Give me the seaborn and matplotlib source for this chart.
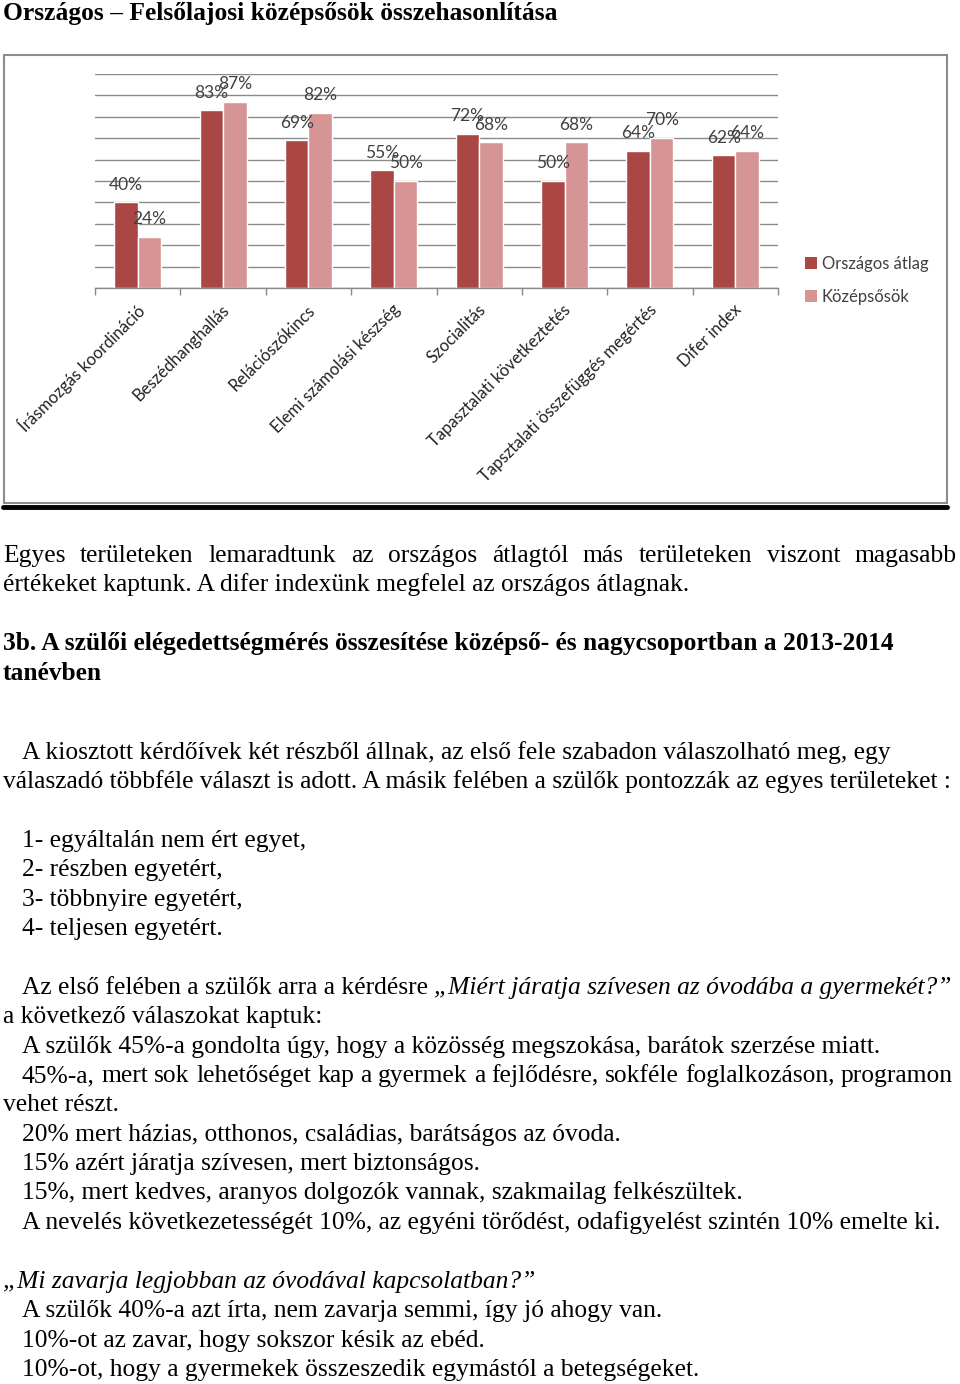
import matplotlib
matplotlib.use('Agg')
import matplotlib.pyplot as plt
import seaborn as sns
import pandas as pd
from matplotlib.patches import Rectangle
from matplotlib.lines import Line2D
from matplotlib.transforms import ScaledTranslation

# ---------------- data ----------------
categories = ["Írásmozgás koordináció", "Beszédhanghallás", "Relációszókincs",
              "Elemi számolási készség", "Szocialitás", "Tapasztalati következtetés",
              "Tapsztalati összefüggés megértés", "Difer index"]
orszagos = [40, 83, 69, 55, 72, 50, 64, 62]
kozepsosok = [24, 87, 82, 50, 68, 68, 70, 64]
series_names = ["Országos átlag", "Középsősök"]
colors = ["#AA4643", "#D69594"]

title = "Országos – Felsőlajosi középsősök összehasonlítása"
para1 = ["Egyes területeken lemaradtunk az országos átlagtól más területeken viszont magasabb",
         "értékeket kaptunk. A difer indexünk megfelel az országos átlagnak."]
heading = ["3b. A szülői elégedettségmérés összesítése középső- és nagycsoportban a 2013-2014",
           "tanévben"]
para2 = ["A kiosztott kérdőívek két részből állnak, az első fele szabadon válaszolható meg, egy",
         "válaszadó többféle választ is adott. A másik felében a szülők pontozzák az egyes területeket :"]
scale_items = ["1- egyáltalán nem ért egyet,", "2- részben egyetért,",
               "3- többnyire egyetért,", "4- teljesen egyetért."]
q1_lead = "Az első felében a szülők arra a kérdésre"
q1_italic = "„Miért járatja szívesen az óvodába a gyermekét?”"
q1_lines = ["a következő válaszokat kaptuk:",
            "A szülők 45%-a gondolta úgy, hogy a közösség megszokása, barátok szerzése miatt.",
            "45%-a, mert sok lehetőséget kap a gyermek a fejlődésre, sokféle foglalkozáson, programon",
            "vehet részt.",
            "20% mert házias, otthonos, családias, barátságos az óvoda.",
            "15% azért járatja szívesen, mert biztonságos.",
            "15%, mert kedves, aranyos dolgozók vannak, szakmailag felkészültek.",
            "A nevelés következetességét 10%, az egyéni törődést, odafigyelést szintén 10% emelte ki."]
q2_italic = "„Mi zavarja legjobban az óvodával kapcsolatban?”"
q2_lines = ["A szülők 40%-a azt írta, nem zavarja semmi, így jó ahogy van.",
            "10%-ot az zavar, hogy sokszor késik az ebéd.",
            "10%-ot, hogy a gyermekek összeszedik egymástól a betegségeket."]

# ---------------- setup ----------------
sns.set_theme(style='white')
plt.rcParams['font.family'] = ['Lato', 'DejaVu Sans']

W, H = 960, 1384
fig = plt.figure(figsize=(W / 100, H / 100), dpi=100)
fig.patch.set_facecolor('white')


def fx(px):
    return px / W


def fy(py):
    return 1 - py / H


# chart frame
fig.add_artist(Rectangle((fx(4), fy(503)), fx(947) - fx(4), fy(55) - fy(503),
                         transform=fig.transFigure, fill=False, ec='#8c8c8c', lw=1.5))
fig.add_artist(Line2D([fx(3), fx(947)], [fy(507), fy(507)], transform=fig.transFigure,
                      color='black', lw=3.5))

# ---------------- chart ----------------
ax = fig.add_axes([fx(95), fy(288), fx(778) - fx(95), fy(74) - fy(288)])
df = pd.DataFrame({
    'Terület': categories * 2,
    'Sorozat': [series_names[0]] * len(categories) + [series_names[1]] * len(categories),
    'Érték': orszagos + kozepsosok,
})
sns.barplot(data=df, x='Terület', y='Érték', hue='Sorozat', order=categories,
            hue_order=series_names, palette=colors, width=0.55, saturation=1,
            errorbar=None, legend=False, ax=ax)

for cont in ax.containers:
    ax.bar_label(cont, labels=[f"{v:.0f}%" for v in cont.datavalues], padding=7,
                 fontsize=12.5, color='#404040')

ax.set_ylim(0, 100)
ax.set_yticks(range(0, 101, 10))
ax.set_yticklabels([])
ax.tick_params(axis='y', length=0)
ax.grid(axis='y', color='#8a8a8a', lw=1)
ax.set_axisbelow(True)
for s in ['left', 'right', 'top']:
    ax.spines[s].set_visible(False)
ax.spines['bottom'].set_color('#8a8a8a')
ax.spines['bottom'].set_linewidth(1)
ax.set_xlim(-0.5, len(categories) - 0.5)
ax.set_xticks(range(len(categories)))
ax.set_xticklabels(categories, rotation=45, ha='right', va='center',
                   rotation_mode='anchor', fontsize=12, color='#222222')
ax.set_xticks([i - 0.5 for i in range(len(categories) + 1)], minor=True)
ax.tick_params(axis='x', which='major', length=0, pad=14)
ax.tick_params(axis='x', which='minor', length=5, color='#8a8a8a', width=1, bottom=True)
for lab in ax.get_xticklabels():
    lab.set_transform(lab.get_transform() + ScaledTranslation(0.04, 0, fig.dpi_scale_trans))
ax.set_xlabel('')
ax.set_ylabel('')

handles = [Rectangle((0, 0), 1, 1, fc=c, ec='none') for c in colors]
leg = fig.legend(handles, series_names, loc='upper left',
                 bbox_to_anchor=(fx(805), fy(256)), frameon=False, fontsize=12,
                 handlelength=0.7, handleheight=0.7, handletextpad=0.3,
                 labelspacing=1.0, borderpad=0, borderaxespad=0)
for t in leg.get_texts():
    t.set_color('#404040')

# ---------------- page text ----------------
SERIF = 'Liberation Serif'
FS = 18.4
renderer = fig.canvas.get_renderer()


def put(x, yb, s, **kw):
    kw.setdefault('fontsize', FS)
    return fig.text(fx(x), fy(yb), s, ha='left', va='baseline', family=SERIF,
                    color='black', **kw)


def width(t):
    return t.get_window_extent(renderer=renderer).width


def justify(x0, x1, yb, s, **kw):
    words = s.split(' ')
    texts = [put(x0, yb, w, **kw) for w in words]
    ws = [width(t) for t in texts]
    gap = (x1 - x0 - sum(ws)) / (len(words) - 1)
    x = x0
    for t, w in zip(texts, ws):
        t.set_x(fx(x))
        x += w + gap


put(3, 20, title, fontweight='bold')
justify(3, 957, 562, para1[0])
put(3, 591, para1[1])
put(3, 650, heading[0], fontweight='bold')
put(3, 680, heading[1], fontweight='bold')
put(22, 759, para2[0])
put(3, 788, para2[1])
for i, s in enumerate(scale_items):
    put(22, 847 + i * 29.3, s)
t_lead = put(22, 994, q1_lead)
put(22 + width(t_lead) + 6, 994, q1_italic, style='italic')
ys = [1023, 1053, 1082, 1111, 1141, 1170, 1199, 1229]
xs = [3, 22, 22, 3, 22, 22, 22, 22]
for s, x, y in zip(q1_lines, xs, ys):
    if s.startswith("45%-a, mert"):
        justify(x, 953, y, s)
    else:
        put(x, y, s)
put(3, 1288, q2_italic, style='italic')
for i, s in enumerate(q2_lines):
    put(22, 1317 + i * 29.5, s)

fig.savefig('out.png', dpi=100)
